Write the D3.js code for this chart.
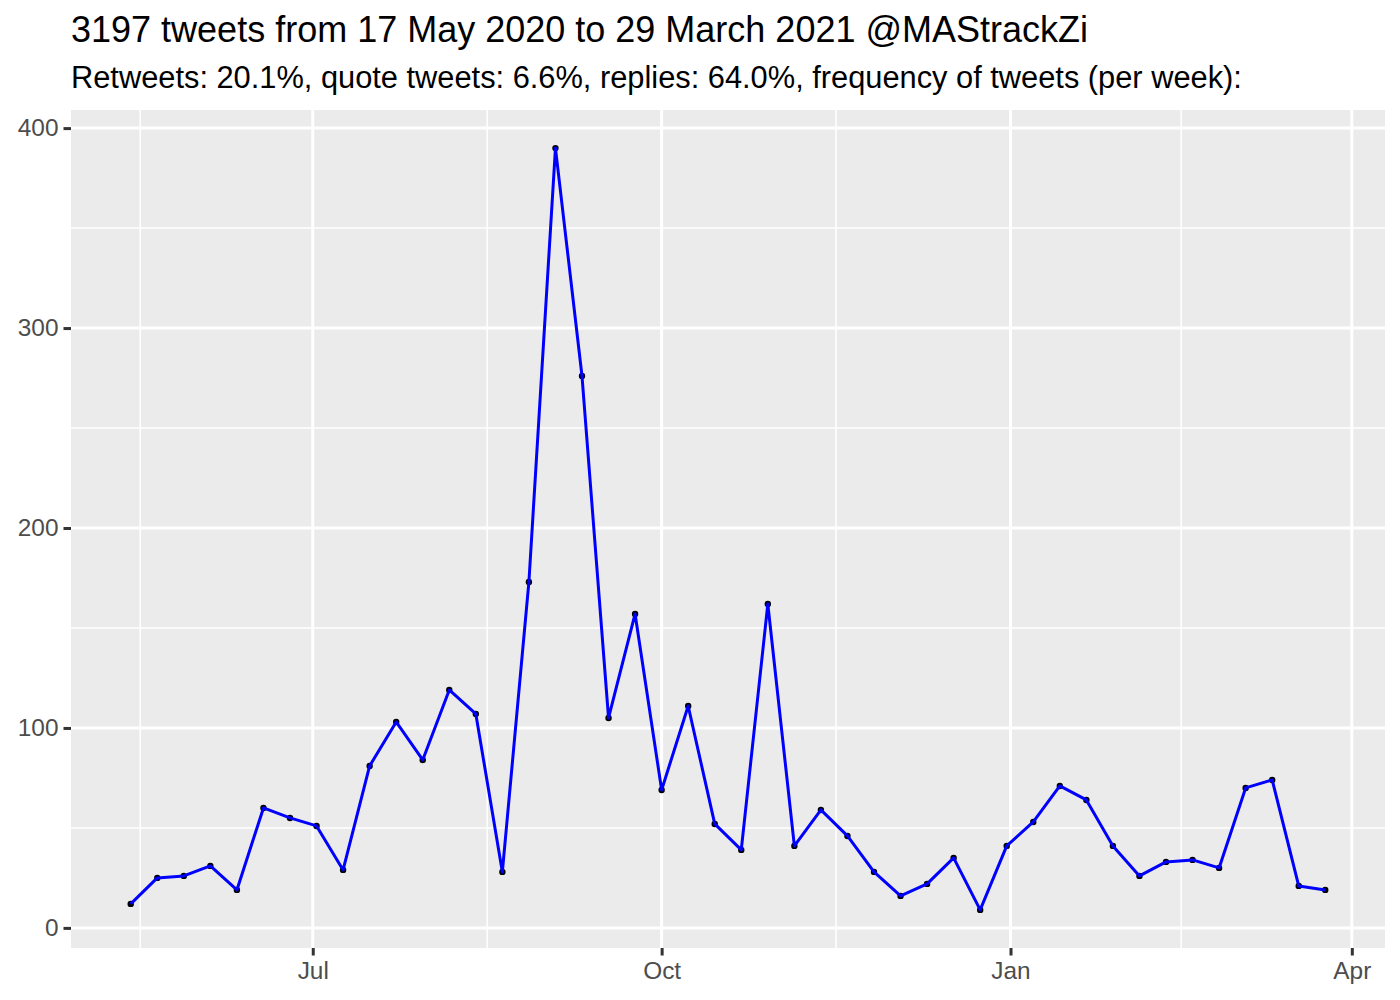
<!DOCTYPE html>
<html><head><meta charset="utf-8">
<script src="https://cdn.jsdelivr.net/npm/d3@7"></script>
<style>body{margin:0;background:#fff;} text{font-family:"Liberation Sans",Arial,sans-serif;}</style>
</head><body>
<svg id="c" width="1400" height="1000"></svg>
<script>
const title = "3197 tweets from 17 May 2020 to 29 March 2021 @MAStrackZi";
const subtitle = "Retweets: 20.1%, quote tweets: 6.6%, replies: 64.0%, frequency of tweets (per week):";
const firstWeek = [2020, 4, 14];
const counts = [12,25,26,31,19,60,55,51,29,81,103,84,119,107,28,173,390,276,105,157,69,111,52,39,162,41,59,46,28,16,22,35,9,41,53,71,64,41,26,33,34,30,70,74,21,19];
const yTicks = [0,100,200,300,400];
const yMinor = [50,150,250,350];
const xTickDates = ["2020-07-01","2020-10-01","2021-01-01","2021-04-01"];
const xTickLabels = ["Jul","Oct","Jan","Apr"];
const xMinorDates = ["2020-05-16T12:00","2020-08-16","2020-11-16","2021-02-15"];

const t0 = new Date(firstWeek[0], firstWeek[1], firstWeek[2]);
const data = counts.map((v,i)=>({date:d3.timeDay.offset(t0,7*i), v}));

const svg = d3.select("#c");
const L=71, R=1385, T=110, B=948;
const xExt = d3.extent(data,d=>d.date);
const span = xExt[1]-xExt[0];
const x = d3.scaleTime().domain([new Date(+xExt[0]-0.05*span), new Date(+xExt[1]+0.05*span)]).range([L,R]);
const yExt = d3.extent(counts);
const ys = yExt[1]-yExt[0];
const y = d3.scaleLinear().domain([yExt[0]-0.05*ys, yExt[1]+0.05*ys]).range([B,T]);

const toD = s => { const p=s.split(/[-T:]/).map(Number); return new Date(p[0],p[1]-1,p[2],p[3]||0,p[4]||0); };

svg.append("rect").attr("x",L).attr("y",T).attr("width",R-L).attr("height",B-T).attr("fill","#EBEBEB");
const g = svg.append("g");
g.selectAll(".ym").data(yMinor).join("line").attr("x1",L).attr("x2",R).attr("y1",d=>y(d)).attr("y2",d=>y(d)).attr("stroke","#fff").attr("stroke-width",1.5);
g.selectAll(".xm").data(xMinorDates).join("line").attr("y1",T).attr("y2",B).attr("x1",d=>x(toD(d))).attr("x2",d=>x(toD(d))).attr("stroke","#fff").attr("stroke-width",1.5);
g.selectAll(".yM").data(yTicks).join("line").attr("x1",L).attr("x2",R).attr("y1",d=>y(d)).attr("y2",d=>y(d)).attr("stroke","#fff").attr("stroke-width",3);
g.selectAll(".xM").data(xTickDates).join("line").attr("y1",T).attr("y2",B).attr("x1",d=>x(toD(d))).attr("x2",d=>x(toD(d))).attr("stroke","#fff").attr("stroke-width",3);

// points then line
g.selectAll("circle").data(data).join("circle").attr("cx",d=>x(d.date)).attr("cy",d=>y(d.v)).attr("r",3.2).attr("fill","#000");
g.append("path").datum(data).attr("d",d3.line().x(d=>x(d.date)).y(d=>y(d.v))).attr("fill","none").attr("stroke","#0000FF").attr("stroke-width",3).attr("stroke-linejoin","round");

// axes
const ya = svg.append("g").attr("transform",`translate(${L},0)`).call(d3.axisLeft(y).tickValues(yTicks).tickSize(7.5).tickPadding(5));
const xa = svg.append("g").attr("transform",`translate(0,${B})`).call(d3.axisBottom(x).tickValues(xTickDates.map(toD)).tickFormat((d,i)=>xTickLabels[i]).tickSize(7.5).tickPadding(6));
[ya,xa].forEach(a=>{a.select(".domain").remove(); a.selectAll(".tick line").attr("stroke","#333").attr("stroke-width",3); a.selectAll(".tick text").attr("fill","#4D4D4D").style("font-size","24.4px").style("font-family","Liberation Sans, Arial, sans-serif");});
xa.selectAll(".tick text").attr("dy","0.73em");

svg.append("text").attr("x",71).attr("y",42).text(title).style("font-size","36px").attr("fill","#000");
svg.append("text").attr("x",71).attr("y",88).text(subtitle).style("font-size","30.8px").attr("fill","#000");
</script>
</body></html>
